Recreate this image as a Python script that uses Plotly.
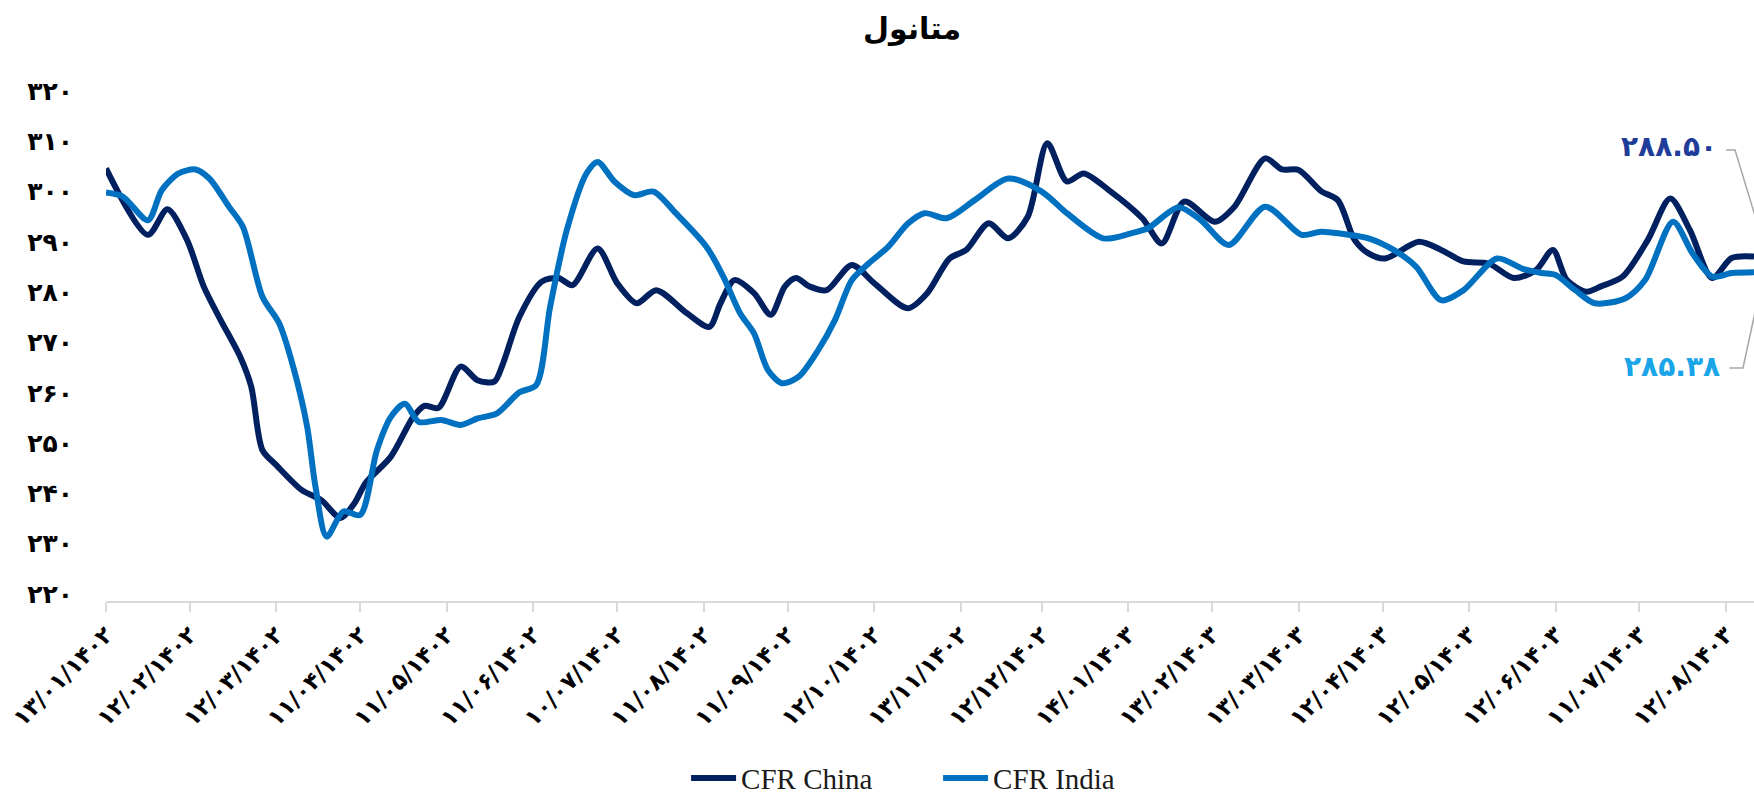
import plotly.graph_objects as go

# ---------------- data ----------------
FA_DIGITS = str.maketrans('0123456789', '۰۱۲۳۴۵۶۷۸۹')


def fa(s):
    return str(s).translate(FA_DIGITS)


chart_title = 'متانول'
series_names = ['CFR China', 'CFR India']

china_dates = [
    '2023-04-02', '2023-04-17', '2023-04-24', '2023-05-01', '2023-05-07', '2023-05-13',
    '2023-05-20', '2023-05-24', '2023-05-28', '2023-06-02', '2023-06-11', '2023-06-18',
    '2023-06-25', '2023-06-30', '2023-07-04', '2023-07-13', '2023-07-21', '2023-07-25',
    '2023-07-30', '2023-08-07', '2023-08-13', '2023-08-19', '2023-08-22', '2023-08-28',
    '2023-09-05', '2023-09-11', '2023-09-16', '2023-09-25', '2023-10-02', '2023-10-09',
    '2023-10-16', '2023-10-27', '2023-11-04', '2023-11-08', '2023-11-13', '2023-11-20',
    '2023-11-26', '2023-12-01', '2023-12-05', '2023-12-10', '2023-12-16', '2023-12-25',
    '2024-01-02', '2024-01-14', '2024-01-21', '2024-01-29', '2024-02-04', '2024-02-12',
    '2024-02-19', '2024-02-26', '2024-03-04', '2024-03-11', '2024-03-17', '2024-03-26',
    '2024-04-07', '2024-04-14', '2024-04-22', '2024-05-03', '2024-05-10', '2024-05-21',
    '2024-05-27', '2024-06-02', '2024-06-10', '2024-06-16', '2024-06-22', '2024-06-27',
    '2024-07-03', '2024-07-15', '2024-07-23', '2024-07-31', '2024-08-09', '2024-08-18',
    '2024-08-26', '2024-09-01', '2024-09-06', '2024-09-13', '2024-09-18', '2024-09-26',
    '2024-10-05', '2024-10-13', '2024-10-20', '2024-10-28', '2024-11-04', '2024-11-12',
]
china_values = [
    306.0, 292.8, 297.9, 291.8, 282.5, 275.9,
    268.6, 262.6, 250.0, 247.0, 242.1, 240.1,
    236.5, 239.5, 243.5, 248.7, 256.6, 258.8,
    258.4, 266.6, 263.9, 263.6, 267.0, 276.5,
    283.5, 284.2, 282.8, 290.1, 283.2, 279.2,
    281.8, 277.2, 274.5, 279.2, 283.8, 281.2,
    276.9, 282.5, 284.2, 282.5, 281.8, 286.8,
    283.2, 278.2, 281.2, 288.1, 289.8, 295.1,
    292.1, 296.4, 311.0, 303.4, 305.0, 301.7,
    296.1, 291.1, 299.4, 295.4, 298.4, 308.0,
    305.8, 305.7, 301.5, 299.7, 291.8, 289.1,
    288.1, 291.4, 289.8, 287.5, 287.1, 284.2,
    285.8, 289.8, 283.8, 281.5, 282.5, 284.5,
    291.8, 300.0, 293.8, 284.2, 288.2, 288.50,
]

india_dates = [
    '2023-04-02', '2023-04-08', '2023-04-17', '2023-04-22', '2023-04-28', '2023-05-04',
    '2023-05-09', '2023-05-16', '2023-05-21', '2023-05-28', '2023-06-03', '2023-06-08',
    '2023-06-13', '2023-06-16', '2023-06-20', '2023-06-26', '2023-07-02', '2023-07-08',
    '2023-07-13', '2023-07-18', '2023-07-23', '2023-07-31', '2023-08-07', '2023-08-13',
    '2023-08-20', '2023-08-28', '2023-09-03', '2023-09-08', '2023-09-14', '2023-09-21',
    '2023-09-25', '2023-10-01', '2023-10-08', '2023-10-15', '2023-10-23', '2023-11-03',
    '2023-11-09', '2023-11-15', '2023-11-20', '2023-11-25', '2023-11-30', '2023-12-06',
    '2023-12-13', '2023-12-19', '2023-12-25', '2023-12-31', '2024-01-07', '2024-01-14',
    '2024-01-20', '2024-01-28', '2024-02-07', '2024-02-19', '2024-03-02', '2024-03-11',
    '2024-03-24', '2024-04-03', '2024-04-09', '2024-04-20', '2024-04-28', '2024-05-08',
    '2024-05-21', '2024-06-03', '2024-06-10', '2024-06-20', '2024-06-27', '2024-07-06',
    '2024-07-14', '2024-07-23', '2024-07-31', '2024-08-12', '2024-08-21', '2024-08-28',
    '2024-09-02', '2024-09-09', '2024-09-16', '2024-09-27', '2024-10-04', '2024-10-14',
    '2024-10-21', '2024-10-28', '2024-11-04', '2024-11-12',
]
india_values = [
    301.2, 300.4, 295.7, 301.7, 305.0, 305.8,
    304.0, 298.4, 294.4, 280.5, 275.2, 266.6,
    254.7, 242.7, 232.8, 237.8, 237.1, 250.0,
    256.6, 259.2, 255.6, 256.0, 255.0, 256.3,
    257.3, 261.5, 262.9, 278.5, 293.8, 305.0,
    307.3, 303.4, 300.7, 301.4, 297.1, 290.4,
    284.5, 277.2, 273.2, 265.9, 263.3, 264.6,
    269.9, 275.9, 283.8, 287.1, 290.4, 295.0,
    297.1, 296.1, 299.7, 304.0, 301.4, 297.1,
    292.1, 293.1, 294.1, 298.3, 295.7, 290.8,
    298.4, 292.8, 293.4, 292.8, 292.1, 289.8,
    286.5, 279.8, 281.8, 288.1, 286.1, 285.2,
    284.8, 281.8, 279.2, 280.2, 283.8, 295.4,
    289.1, 284.5, 285.2, 285.38,
]

tick_dates = [
    '2023-04-02', '2023-05-02', '2023-06-02', '2023-07-02', '2023-08-02',
    '2023-09-02', '2023-10-02', '2023-11-02', '2023-12-02', '2024-01-02',
    '2024-02-02', '2024-03-02', '2024-04-02', '2024-05-02', '2024-06-02',
    '2024-07-02', '2024-08-02', '2024-09-02', '2024-10-02', '2024-11-02',
]
tick_labels = [
    '13/01/1402', '12/02/1402', '12/03/1402', '11/04/1402', '11/05/1402',
    '11/06/1402', '10/07/1402', '11/08/1402', '11/09/1402', '12/10/1402',
    '13/11/1402', '12/12/1402', '14/01/1403', '13/02/1403', '13/03/1403',
    '12/04/1403', '12/05/1403', '12/06/1403', '11/07/1403', '12/08/1403',
]
y_ticks = [220, 230, 240, 250, 260, 270, 280, 290, 300, 310, 320]
x_range = ['2023-04-02', '2024-11-12']

# ---------------- styles ----------------
CHINA_COLOR = '#002060'
INDIA_COLOR = '#0070C0'
FA_FONT = 'DejaVu Sans'

fig = go.Figure()
fig.add_trace(go.Scatter(
    x=china_dates, y=china_values, name=series_names[0], mode='lines',
    line=dict(color=CHINA_COLOR, width=6, shape='spline', smoothing=0.8),
))
fig.add_trace(go.Scatter(
    x=india_dates, y=india_values, name=series_names[1], mode='lines',
    line=dict(color=INDIA_COLOR, width=6, shape='spline', smoothing=0.8),
))

fig.update_layout(
    width=1754, height=800,
    paper_bgcolor='white', plot_bgcolor='white',
    margin=dict(l=106, r=0, t=98, b=199, autoexpand=False),
    title=dict(text='<b>' + chart_title + '</b>', x=0.52, xanchor='center',
               y=0.964, yanchor='middle', yref='container',
               font=dict(family=FA_FONT, size=30, color='black')),
    showlegend=True,
    legend=dict(orientation='h', x=0.352, xanchor='left', y=-0.352, yanchor='middle',
                font=dict(family='Liberation Serif', size=29, color='#1a1a1a'),
                itemwidth=45, entrywidth=192, entrywidthmode='pixels',
                tracegroupgap=0),
)

fig.update_xaxes(
    type='date', range=x_range, automargin=False,
    tickmode='array', tickvals=tick_dates,
    ticktext=['<b>' + fa(t) + '</b>' for t in tick_labels],
    tickangle=-45, tickfont=dict(family=FA_FONT, size=23, color='black'),
    showgrid=False, zeroline=False,
    showline=True, linecolor='#d9d9d9', linewidth=2,
    ticks='outside', ticklen=9, tickcolor='#d9d9d9', tickwidth=2,
)
fig.update_yaxes(
    range=[220, 320], automargin=False, tickmode='array', tickvals=y_ticks,
    ticktext=['<b>' + fa(v) + '</b>' for v in y_ticks],
    tickfont=dict(family=FA_FONT, size=25, color='black'),
    showgrid=False, zeroline=False, showline=False,
    ticks='', ticklabelstandoff=32, ticklabelshift=-7,
)

# end-value labels with leader lines
fig.add_annotation(xref='paper', yref='paper', x=0.979, y=0.9026, xanchor='right',
                   yanchor='middle', showarrow=False,
                   text='<b>' + fa(f'{china_values[-1]:.2f}') + '</b>',
                   font=dict(family=FA_FONT, size=28, color='#1F3C9A'))
fig.add_annotation(xref='paper', yref='paper', x=0.9805, y=0.467, xanchor='right',
                   yanchor='middle', showarrow=False,
                   text='<b>' + fa(f'{india_values[-1]:.2f}') + '</b>',
                   font=dict(family=FA_FONT, size=28, color='#19A5E8'))
fig.add_shape(type='path', xref='paper', yref='paper',
              path='M 0.9831,0.8966 L 0.9885,0.8966 L 1.0012,0.7594',
              line=dict(color='#a6a6a6', width=1.5))
fig.add_shape(type='path', xref='paper', yref='paper',
              path='M 0.9852,0.4632 L 0.9933,0.4632 L 1.0012,0.5825',
              line=dict(color='#a6a6a6', width=1.5))

fig.write_html('out.html', config={'displayModeBar': False},
               post_script="document.body.style.margin='0';")
